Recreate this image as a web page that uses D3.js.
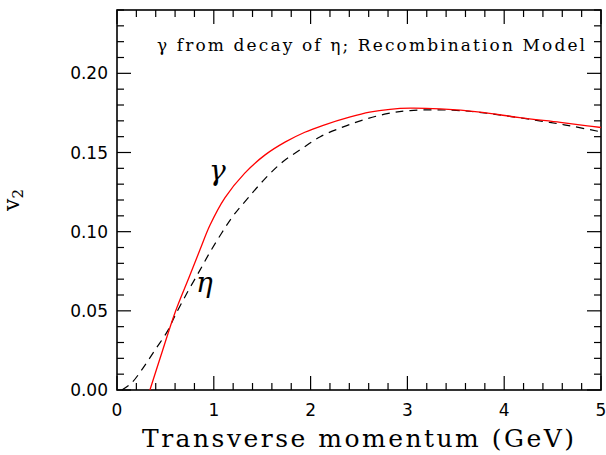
<!DOCTYPE html>
<html><head><meta charset="utf-8">
<script src="https://cdn.jsdelivr.net/npm/d3@7"></script>
<style>body{margin:0;background:#fff;} svg{display:block;}</style>
</head><body>
<svg id="c" width="606" height="455"></svg>
<script>
// Data
const gammaPt = [0.34,0.45,0.6,0.75,0.86,0.96,1.116,1.32,1.53,1.74,1.94,2.13,2.41,2.61,2.82,3.03,3.34,3.75,4.16,4.58,4.86,5.0];
const gammaV2 = [0,0.021,0.049,0.072,0.089,0.104,0.1215,0.137,0.1485,0.1567,0.1628,0.1672,0.1725,0.1755,0.1773,0.178,0.1775,0.1755,0.172,0.169,0.1668,0.1658];
const etaPt = [0.05,0.15,0.27,0.39,0.52,0.6,0.73,0.86,0.96,1.08,1.2,1.35,1.53,1.71,1.91,2.10,2.33,2.54,2.79,3.03,3.47,3.82,4.47,4.71,5.0];
const etaV2 = [0,0.0044,0.014,0.025,0.037,0.047,0.062,0.076,0.087,0.099,0.110,0.121,0.1335,0.144,0.1525,0.160,0.166,0.1705,0.1745,0.1765,0.1767,0.1748,0.169,0.1665,0.163];
const xTicks = [0,1,2,3,4,5];
const yTicks = [0.00,0.05,0.10,0.15,0.20];
const title = "γ from decay of η; Recombination Model";
const xTitle = "Transverse momentum (GeV)";

const svg = d3.select("#c");
const L=117,R=601,T=10,B=390;
const x = d3.scaleLinear().domain([0,5]).range([L,R]);
const y = d3.scaleLinear().domain([0,0.24]).range([B,T]);

const g = svg.append("g");
const major=14, minor=7;
// ticks on all four sides, inward
const xMinor = d3.range(0,5.0001,0.2);
const yMinor = d3.range(0,0.2401,0.01);
function isMajorX(v){return Math.abs(v-Math.round(v))<1e-6;}
function isMajorY(v){return Math.abs(v/0.05-Math.round(v/0.05))<1e-6;}
xMinor.forEach(v=>{
  const len = isMajorX(v)?major:minor;
  g.append("line").attr("x1",x(v)).attr("x2",x(v)).attr("y1",B).attr("y2",B-len).attr("stroke","#000").attr("stroke-width",1.2);
  g.append("line").attr("x1",x(v)).attr("x2",x(v)).attr("y1",T).attr("y2",T+len).attr("stroke","#000").attr("stroke-width",1.2);
});
yMinor.forEach(v=>{
  const len = isMajorY(v)?major:minor;
  g.append("line").attr("x1",L).attr("x2",L+len).attr("y1",y(v)).attr("y2",y(v)).attr("stroke","#000").attr("stroke-width",1.2);
  g.append("line").attr("x1",R).attr("x2",R-len).attr("y1",y(v)).attr("y2",y(v)).attr("stroke","#000").attr("stroke-width",1.2);
});
g.append("rect").attr("x",L).attr("y",T).attr("width",R-L).attr("height",B-T).attr("fill","none").attr("stroke","#000").attr("stroke-width",1.6);

const tf = "'DejaVu Sans', sans-serif";
svg.append("g").selectAll("text").data(xTicks).join("text")
  .attr("x",d=>x(d)).attr("y",416).attr("text-anchor","middle")
  .attr("font-family",tf).attr("font-size",17).text(d=>d3.format("d")(d));
svg.append("g").selectAll("text").data(yTicks).join("text")
  .attr("x",108).attr("y",d=>y(d)+6).attr("text-anchor","end")
  .attr("font-family",tf).attr("font-size",17).text(d=>d3.format(".2f")(d));

const sf = "'DejaVu Serif', serif";
svg.append("text").attr("x",358).attr("y",447).attr("text-anchor","middle")
  .attr("font-family",sf).attr("font-size",25).attr("textLength",432).text(xTitle);
const yl = svg.append("text").attr("transform","translate(19,200) rotate(-90)")
  .attr("text-anchor","middle").attr("font-family",sf).attr("font-size",22);
yl.append("tspan").text("v");
yl.append("tspan").attr("font-size",15).attr("dy",4).text("2");

svg.append("text").attr("x",157).attr("y",51).attr("font-family",sf).attr("font-size",17)
  .attr("textLength",428).text(title);

const line = d3.line().x(d=>x(d[0])).y(d=>y(d[1])).curve(d3.curveCatmullRom.alpha(0.5));
svg.append("path").datum(etaPt.map((p,i)=>[p,etaV2[i]])).attr("d",line)
  .attr("fill","none").attr("stroke","#000").attr("stroke-width",1.2).attr("stroke-dasharray","8,6");
svg.append("path").datum(gammaPt.map((p,i)=>[p,gammaV2[i]])).attr("d",line)
  .attr("fill","none").attr("stroke","#ff0000").attr("stroke-width",1.3);

svg.append("text").attr("x",209).attr("y",180).attr("font-family",sf).attr("font-style","italic").attr("font-size",28).text("γ");
svg.append("text").attr("x",196).attr("y",292).attr("font-family",sf).attr("font-style","italic").attr("font-size",28).text("η");
</script>
</body></html>
